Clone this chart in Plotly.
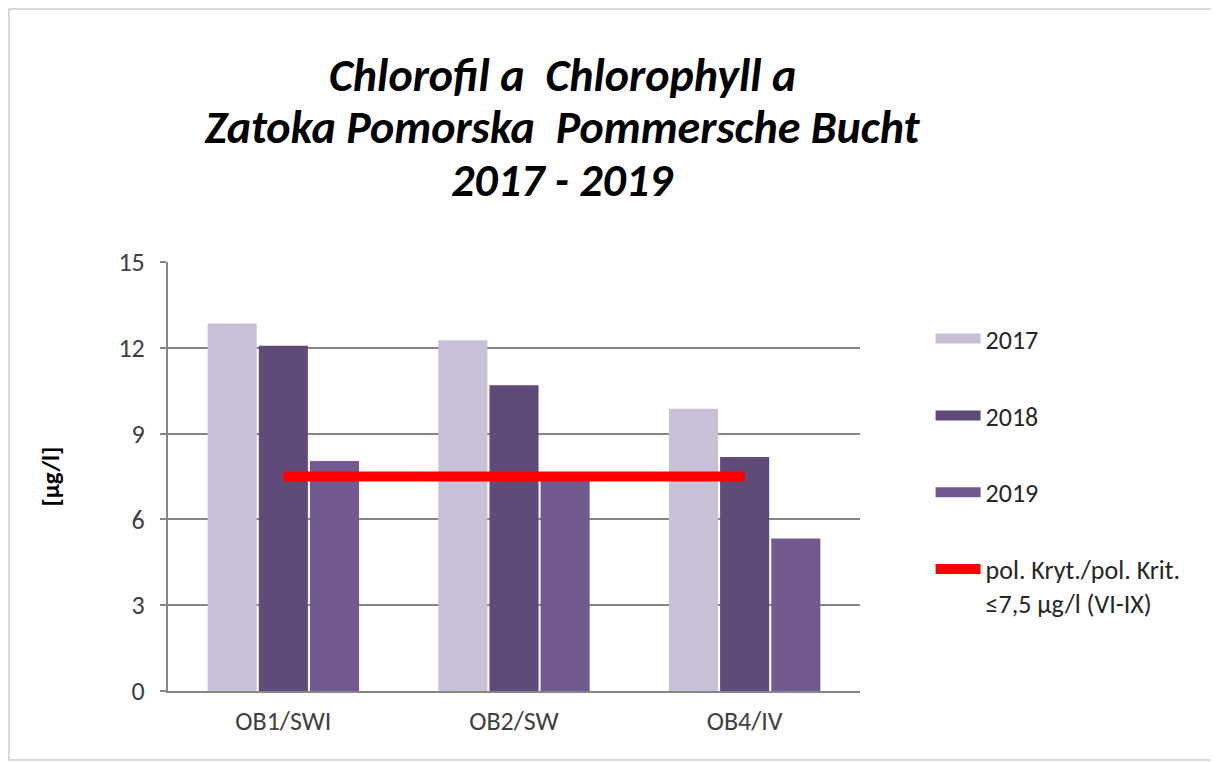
import plotly.graph_objects as go

categories = ["OB1/SWI", "OB2/SW", "OB4/IV"]
years = ["2017", "2018", "2019"]
values_2017 = [12.85, 12.26, 9.87]
values_2018 = [12.07, 10.69, 8.18]
values_2019 = [8.04, 7.4, 5.33]
threshold = [7.5, 7.5, 7.5]
threshold_label = "pol. Kryt./pol. Krit.<br>≤7,5 µg/l (VI-IX)"
y_ticks = [0, 3, 6, 9, 12, 15]
title_lines = ["Chlorofil a  Chlorophyll a", "Zatoka Pomorska  Pommersche Bucht", "2017 - 2019"]
colors = ["#C8C0D6", "#604A7A", "#725A90"]

FONT = "Carlito, Calibri, Liberation Sans Narrow, Liberation Sans, sans-serif"

# figure is placed at an 8px page offset (body margin)
W, H = 1211, 754
L, T = 160, 254
PW, PH = 692, 429
R, B = W - L - PW, H - T - PH

fig = go.Figure()
for yr, vals, col in zip(years, [values_2017, values_2018, values_2019], colors):
    fig.add_trace(go.Bar(x=categories, y=vals, name=yr, marker_color=col,
                         marker_line_width=0, showlegend=False))

fig.add_trace(go.Scatter(x=categories, y=threshold, mode="lines",
                         line=dict(color="#FF0000", width=10), showlegend=False))

# legend entries (wide swatches like the original)
for yr, col in zip(years, colors):
    fig.add_trace(go.Scatter(x=[None], y=[None], mode="lines", name=yr,
                             legendgroup=yr, line=dict(color=col, width=11)))
fig.add_trace(go.Scatter(x=[None], y=[None], mode="lines", name=threshold_label,
                         legendgroup="thr", line=dict(color="#FF0000", width=10)))

# title lines as annotations (page y centres ~75, 127, 180)
annotations = []
for line, ypix in zip(title_lines, [75, 127, 180]):
    annotations.append(dict(
        text="<b><i>%s</i></b>" % line, showarrow=False,
        xref="paper", x=(562 - 8 - L) / PW, xanchor="center",
        yref="paper", y=(H - B - (ypix - 8)) / PH, yanchor="middle",
        font=dict(family=FONT, size=46, color="black")))

fig.update_layout(
    width=W, height=H,
    paper_bgcolor="white", plot_bgcolor="white",
    margin=dict(l=L, r=R, t=T, b=B),
    barmode="group", bargap=0.335, bargroupgap=0.04,
    font=dict(family=FONT, size=26, color="#404040"),
    annotations=annotations,
    legend=dict(x=1.102, xanchor="left", y=0.876, yanchor="top", valign="top",
                font=dict(family=FONT, size=26, color="#262626"),
                tracegroupgap=40, itemwidth=45, bgcolor="rgba(0,0,0,0)"),
    xaxis=dict(showline=True, linecolor="#868686", linewidth=2,
               ticks="", tickfont=dict(size=26, color="#404040"), showgrid=False,
               ticklabelstandoff=6),
    yaxis=dict(range=[0, 15], tickvals=y_ticks, showline=True, linecolor="#868686",
               linewidth=2, ticks="outside", ticklen=6, tickcolor="#868686", tickwidth=2,
               showgrid=True, gridcolor="#868686", gridwidth=2, zeroline=False,
               tickfont=dict(size=26, color="#404040"), ticklabelstandoff=10,
               title=dict(text="<b>[µg/l]</b>", font=dict(size=25, color="black"), standoff=52)),
    shapes=[dict(type="rect", xref="paper", yref="paper",
                 x0=(1 - L) / PW, x1=(W - 1 - L) / PW,
                 y0=(H - B - (H - 2)) / PH, y1=(H - B - 1) / PH,
                 line=dict(color="#D9D9D9", width=2), fillcolor="rgba(0,0,0,0)", layer="below")],
)

fig.write_html("out.html")
